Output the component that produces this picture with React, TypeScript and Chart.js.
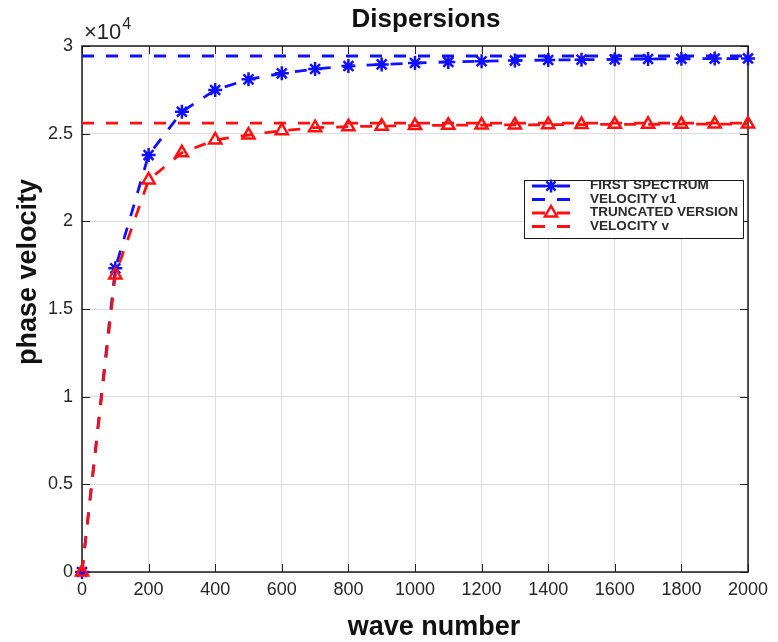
import React, { useEffect, useRef } from 'react';
import { Chart, registerables } from 'chart.js';

Chart.register(...registerables);

// ---- data ----
const waveNumbers = [0, 100, 200, 300, 400, 500, 600, 700, 800, 900, 1000, 1100, 1200, 1300, 1400, 1500, 1600, 1700, 1800, 1900, 2000];
const firstSpectrum = [0, 17320, 23780, 26250, 27490, 28100, 28440, 28690, 28860, 28950, 29030, 29090, 29130, 29170, 29200, 29220, 29240, 29260, 29270, 29280, 29290];
const truncatedVersion = [0, 16940, 22360, 23910, 24640, 24920, 25170, 25340, 25400, 25430, 25460, 25480, 25490, 25500, 25510, 25520, 25530, 25535, 25540, 25545, 25550];
const velocityV1 = 29430;
const velocityV = 25600;
const xRange = [0, 2000];
const xStep = 200;
const yRange = [0, 30000];
const yStep = 5000;
const legendLabels = ['FIRST SPECTRUM', 'VELOCITY v1', 'TRUNCATED VERSION', 'VELOCITY v'];

const BLUE = '#1010ff';
const RED = '#ff1010';
const FONT = '"Liberation Sans", Arial, Helvetica, sans-serif';
const DASH = [12, 12];
const LW = 2.8;

function drawStar(ctx: CanvasRenderingContext2D, x: number, y: number, r: number) {
  ctx.beginPath();
  ctx.moveTo(x - r, y); ctx.lineTo(x + r, y);
  ctx.moveTo(x, y - r); ctx.lineTo(x, y + r);
  const d = r * Math.SQRT1_2;
  ctx.moveTo(x - d, y - d); ctx.lineTo(x + d, y + d);
  ctx.moveTo(x - d, y + d); ctx.lineTo(x + d, y - d);
  ctx.stroke();
}

function drawTriangle(ctx: CanvasRenderingContext2D, x: number, y: number, r: number) {
  ctx.beginPath();
  ctx.moveTo(x, y - r);
  ctx.lineTo(x - r * 0.866, y + r * 0.5);
  ctx.lineTo(x + r * 0.866, y + r * 0.5);
  ctx.closePath();
  ctx.stroke();
}

const decorPlugin = {
  id: 'decor',
  beforeDatasetsDraw(chart: any) {
    const { ctx, chartArea: a, scales } = chart;
    ctx.save();
    ctx.strokeStyle = '#222';
    ctx.lineWidth = 1;
    const tl = 8;
    scales.x.ticks.forEach((t: any) => {
      const px = Math.round(scales.x.getPixelForValue(t.value)) + 0.5;
      ctx.beginPath();
      ctx.moveTo(px, a.bottom); ctx.lineTo(px, a.bottom - tl);
      ctx.moveTo(px, a.top); ctx.lineTo(px, a.top + tl);
      ctx.stroke();
    });
    scales.y.ticks.forEach((t: any) => {
      const py = Math.round(scales.y.getPixelForValue(t.value)) + 0.5;
      ctx.beginPath();
      ctx.moveTo(a.left, py); ctx.lineTo(a.left + tl, py);
      ctx.moveTo(a.right, py); ctx.lineTo(a.right - tl, py);
      ctx.stroke();
    });
    ctx.lineWidth = 1.5;
    ctx.strokeStyle = '#1a1a1a';
    ctx.strokeRect(a.left, a.top, a.right - a.left, a.bottom - a.top);
    ctx.restore();
  },
  afterDraw(chart: any) {
    const { ctx } = chart;
    ctx.save();
    // title
    ctx.fillStyle = '#111';
    ctx.font = `bold 26px ${FONT}`;
    ctx.textAlign = 'center';
    ctx.textBaseline = 'alphabetic';
    ctx.fillText('Dispersions', 426, 27);
    // x label
    ctx.font = `bold 27px ${FONT}`;
    ctx.fillText('wave number', 434, 635);
    // y label
    ctx.save();
    ctx.translate(36, 272);
    ctx.rotate(-Math.PI / 2);
    ctx.fillText('phase velocity', 0, 0);
    ctx.restore();
    // exponent
    ctx.fillStyle = '#262626';
    ctx.textAlign = 'left';
    ctx.font = `22px ${FONT}`;
    ctx.fillText('\u00d710', 84, 39);
    const w = ctx.measureText('\u00d710').width;
    ctx.font = `16px ${FONT}`;
    ctx.fillText('4', 84 + w + 1, 29);

    // legend
    const bx = 524, by = 180, bw = 219, bh = 58;
    ctx.fillStyle = '#ffffff';
    ctx.fillRect(bx, by, bw, bh);
    ctx.strokeStyle = '#1a1a1a';
    ctx.lineWidth = 1;
    ctx.strokeRect(bx + 0.5, by + 0.5, bw, bh);
    const rows = [186, 199.5, 213, 226.5];
    const colors = [BLUE, BLUE, RED, RED];
    const markers = ['star', null, 'triangle', null];
    ctx.font = `bold 12px ${FONT}`;
    const target = 148;
    const mw = ctx.measureText('TRUNCATED VERSION').width;
    const sx = target / mw;
    rows.forEach((ry, i) => {
      ctx.save();
      ctx.strokeStyle = colors[i];
      ctx.lineWidth = LW;
      ctx.setLineDash([13, 12]);
      ctx.beginPath();
      ctx.moveTo(532, ry);
      ctx.lineTo(570, ry);
      ctx.stroke();
      ctx.restore();
      if (markers[i]) {
        ctx.save();
        ctx.strokeStyle = colors[i];
        ctx.lineWidth = 2.5;
        if (markers[i] === 'star') drawStar(ctx, 551, ry, 6.5);
        else drawTriangle(ctx, 551, ry, 7);
        ctx.restore();
      }
      ctx.save();
      ctx.fillStyle = '#2a2a2a';
      ctx.textAlign = 'left';
      ctx.textBaseline = 'middle';
      ctx.font = `bold 12px ${FONT}`;
      ctx.translate(590, ry);
      ctx.scale(sx, 1);
      ctx.fillText(legendLabels[i], 0, 0);
      ctx.restore();
    });
    ctx.restore();
  },
};

export default function App() {
  const ref = useRef<HTMLCanvasElement>(null);
  useEffect(() => {
    if (!ref.current) return;
    const pts = (ys: number[]) => waveNumbers.map((x, i) => ({ x, y: ys[i] }));
    const chart = new Chart(ref.current, {
      type: 'line',
      data: {
        datasets: [
          {
            label: legendLabels[0],
            data: pts(firstSpectrum),
            borderColor: BLUE,
            backgroundColor: BLUE,
            borderDash: DASH,
            borderWidth: LW,
            pointStyle: 'star',
            pointRadius: 7,
            pointBorderWidth: 2.5,
            pointBorderColor: BLUE,
            pointBackgroundColor: BLUE,
            tension: 0,
            clip: false,
            order: 1,
          },
          {
            label: legendLabels[1],
            data: [{ x: xRange[0], y: velocityV1 }, { x: xRange[1], y: velocityV1 }],
            borderColor: BLUE,
            borderDash: DASH,
            borderWidth: LW,
            pointRadius: 0,
            clip: false,
            order: 1,
          },
          {
            label: legendLabels[2],
            data: pts(truncatedVersion),
            borderColor: RED,
            backgroundColor: 'rgba(0,0,0,0)',
            borderDash: DASH,
            borderWidth: LW,
            pointStyle: 'triangle',
            pointRadius: 7,
            pointBorderWidth: 2.5,
            pointBorderColor: RED,
            pointBackgroundColor: 'rgba(0,0,0,0)',
            tension: 0,
            clip: false,
            order: 0,
          },
          {
            label: legendLabels[3],
            data: [{ x: xRange[0], y: velocityV }, { x: xRange[1], y: velocityV }],
            borderColor: RED,
            borderDash: DASH,
            borderWidth: LW,
            pointRadius: 0,
            clip: false,
            order: 0,
          },
        ],
      },
      options: {
        responsive: false,
        animation: false,
        events: [],
        layout: { padding: { left: 0, right: 30, top: 46, bottom: 0 } },
        plugins: { legend: { display: false }, title: { display: false }, tooltip: { enabled: false } },
        scales: {
          x: {
            type: 'linear',
            min: xRange[0],
            max: xRange[1],
            afterFit: (s: any) => { s.height = 70; },
            ticks: {
              stepSize: xStep,
              padding: 7,
              color: '#262626',
              font: { family: FONT, size: 18 },
              maxRotation: 0,
              callback: (v: any) => String(v),
            },
            grid: { color: '#dddddd', lineWidth: 1, drawTicks: false },
            border: { display: false },
          },
          y: {
            type: 'linear',
            min: yRange[0],
            max: yRange[1],
            afterFit: (s: any) => { s.width = 82; },
            ticks: {
              stepSize: yStep,
              padding: 9,
              color: '#262626',
              font: { family: FONT, size: 18 },
              callback: (v: any) => String(Number(v) / 10000),
            },
            grid: { color: '#dddddd', lineWidth: 1, drawTicks: false },
            border: { display: false },
          },
        },
      },
      plugins: [decorPlugin],
    } as any);
    return () => chart.destroy();
  }, []);
  return (
    <div style={{ position: 'absolute', left: 0, top: 0, width: 778, height: 642, background: '#fff' }}>
      <canvas ref={ref} width={778} height={642} style={{ display: 'block' }} />
    </div>
  );
}
